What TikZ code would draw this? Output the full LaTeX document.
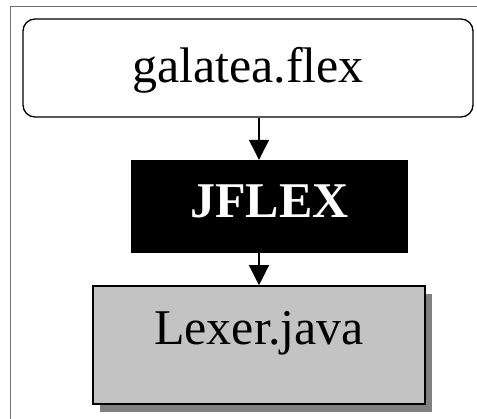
\documentclass[tikz,border=0pt]{standalone}
\usepackage{fontspec}
\setmainfont{Liberation Serif}
\usetikzlibrary{arrows.meta,shadows}

\definecolor{boxgray}{HTML}{C3C3C3}
\definecolor{shadegray}{HTML}{808080}
\definecolor{framegray}{HTML}{707070}

\begin{document}
\begin{tikzpicture}[x=1pt,y=1pt,
	srcbox/.style={draw,rounded corners=12pt,line width=1.3pt,inner sep=0pt,
		minimum width=450pt,text height=64pt,text depth=34pt},
	toolbox/.style={fill=black,text=white,inner sep=0pt,font=\bfseries,
		minimum width=277pt,text height=58pt,text depth=35pt},
	javabox/.style={draw,fill=boxgray,line width=1.6pt,inner sep=0pt,
		minimum width=332pt,text height=59pt,text depth=59pt,
		drop shadow={shadow xshift=7pt,shadow yshift=-8pt,fill=shadegray,opacity=1}},
	flow/.style={-{Triangle[width=20pt,length=20pt]},line width=1.3pt},
	every node/.append style={font=\fontsize{50}{60}\selectfont}]
\useasboundingbox (0,0) rectangle (477,-419);

% frame of the page
\draw[framegray,line width=1pt] (10,-419) -- (10,-7) -- (477,-7);

\node[srcbox] (galatea) at (248,-68) {galatea.flex};
\node[toolbox,font=\fontsize{50}{60}\selectfont\bfseries] (jflex) at (269.5,-206.5) {JFLEX};
\node[javabox] (lexer) at (259,-345) {Lexer.java};

\draw[flow] (galatea.south -| lexer.north) -- (jflex.north -| lexer.north);
\draw[flow] (jflex.south -| lexer.north) -- (lexer.north);
\end{tikzpicture}
\end{document}
